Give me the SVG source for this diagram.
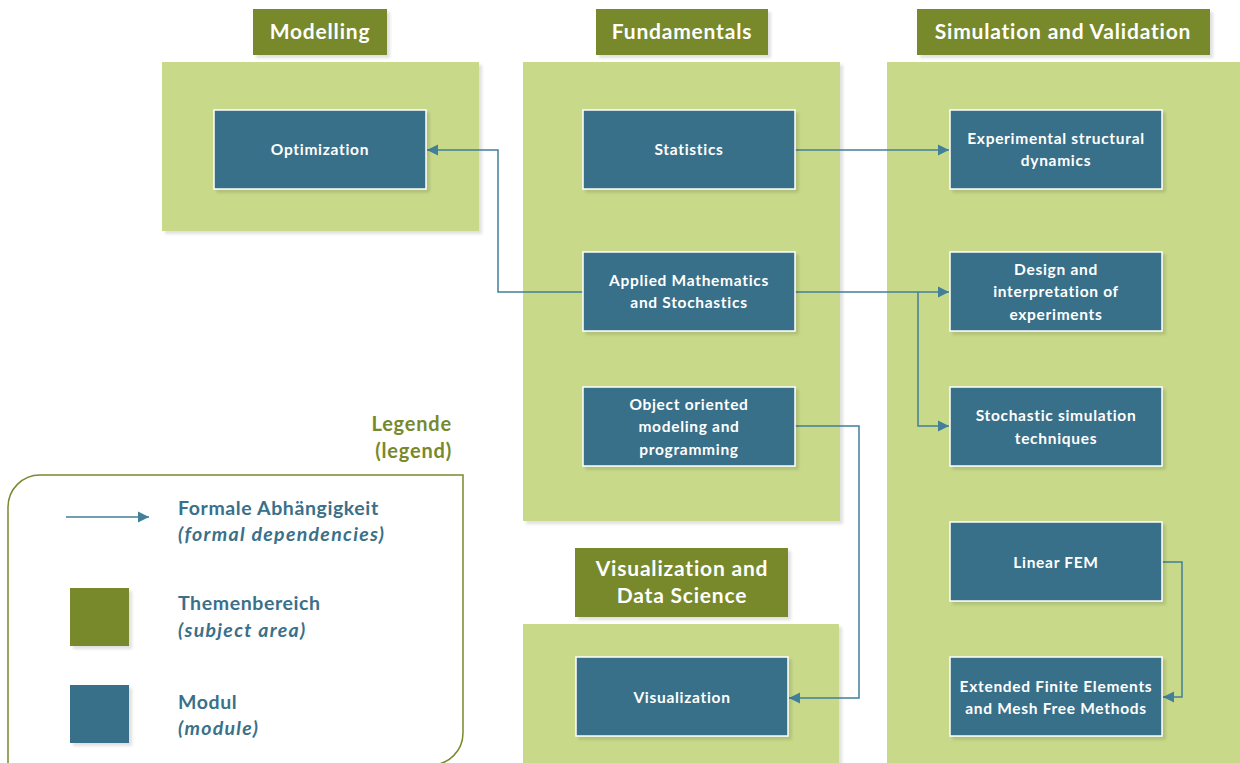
<svg xmlns="http://www.w3.org/2000/svg" width="1240" height="763" viewBox="0 0 1240 763">
<defs>
<style>
.area{fill:#c8da8a;}
.hdr{fill:#77892c;}
.mod{fill:#387089;stroke:#ffffff;stroke-width:1.5;}
.sh{filter:url(#ds);}
.ht{font-family:Lato,"Open Sans",sans-serif;font-weight:700;font-size:21px;letter-spacing:0.8px;fill:#ffffff;text-anchor:middle;}
.mt{font-family:Lato,"Open Sans",sans-serif;font-weight:700;font-size:15.5px;letter-spacing:0.7px;fill:#ffffff;text-anchor:middle;}
.con{fill:none;stroke:#427f99;stroke-width:1.5;}
.lg{font-family:Lato,"Open Sans",sans-serif;font-weight:700;font-size:19.5px;letter-spacing:0.6px;fill:#3a7089;}
.lgi{font-style:italic;letter-spacing:1.3px;}
.lgt{font-family:Lato,"Open Sans",sans-serif;font-weight:700;font-size:20px;letter-spacing:0.8px;fill:#77892c;text-anchor:end;}
</style>
<filter id="ds" x="-10%" y="-10%" width="130%" height="130%">
<feDropShadow dx="3" dy="3" stdDeviation="1.5" flood-color="#000000" flood-opacity="0.12"/>
</filter>
<marker id="ah" markerWidth="12" markerHeight="12" refX="11" refY="6" orient="auto" markerUnits="userSpaceOnUse">
<path d="M0,0.5 L11,6 L0,11.5 Z" fill="#427f99"/>
</marker>
</defs>
<rect width="1240" height="763" fill="#ffffff"/>

<g id="area-modelling">
<rect class="area sh" x="162" y="62" width="317" height="169"/>
<rect class="hdr sh" x="253" y="9" width="134" height="46"/>
<text class="ht" x="320" y="39">Modelling</text>
</g>
<g id="area-fundamentals">
<rect class="area sh" x="523" y="62" width="317" height="459"/>
<rect class="hdr sh" x="596" y="9" width="172" height="46"/>
<text class="ht" x="682" y="39">Fundamentals</text>
</g>
<g id="area-simulation">
<rect class="area sh" x="887" y="62" width="360" height="710"/>
<rect class="hdr sh" x="917" y="9" width="293" height="46"/>
<text class="ht" x="1063" y="39">Simulation and Validation</text>
</g>
<g id="area-visualization">
<rect class="area sh" x="523" y="624" width="316" height="150"/>
<rect class="hdr sh" x="575" y="548" width="213" height="69"/>
<text class="ht" x="682" y="576">Visualization and</text>
<text class="ht" x="682" y="603">Data Science</text>
</g>

<g id="connectors">
<path class="con" d="M583,292 H498 V150 H427" marker-end="url(#ah)"/>
<path class="con" d="M795,150 H949" marker-end="url(#ah)"/>
<path class="con" d="M795,292 H949" marker-end="url(#ah)"/>
<path class="con" d="M918,292 V426 H949" marker-end="url(#ah)"/>
<path class="con" d="M795,426 H859 V698 H789" marker-end="url(#ah)"/>
<path class="con" d="M1162,562 H1182 V697 H1163" marker-end="url(#ah)"/>
</g>

<g id="node-optimization">
<rect class="mod sh" x="214" y="110" width="212" height="79"/>
<text class="mt" x="320" y="155">Optimization</text>
</g>
<g id="node-statistics">
<rect class="mod sh" x="583" y="110" width="212" height="79"/>
<text class="mt" x="689" y="155">Statistics</text>
</g>
<g id="node-applied">
<rect class="mod sh" x="583" y="252" width="212" height="79"/>
<text class="mt" x="689" y="286">Applied Mathematics</text>
<text class="mt" x="689" y="308">and Stochastics</text>
</g>
<g id="node-oop">
<rect class="mod sh" x="583" y="387" width="212" height="79"/>
<text class="mt" x="689" y="410">Object oriented</text>
<text class="mt" x="689" y="432">modeling and</text>
<text class="mt" x="689" y="455">programming</text>
</g>
<g id="node-experimental">
<rect class="mod sh" x="950" y="110" width="212" height="79"/>
<text class="mt" x="1056" y="144">Experimental structural</text>
<text class="mt" x="1056" y="166">dynamics</text>
</g>
<g id="node-design">
<rect class="mod sh" x="950" y="252" width="212" height="79"/>
<text class="mt" x="1056" y="275">Design and</text>
<text class="mt" x="1056" y="297">interpretation of</text>
<text class="mt" x="1056" y="320">experiments</text>
</g>
<g id="node-stochastic">
<rect class="mod sh" x="950" y="387" width="212" height="79"/>
<text class="mt" x="1056" y="421">Stochastic simulation</text>
<text class="mt" x="1056" y="444">techniques</text>
</g>
<g id="node-linearfem">
<rect class="mod sh" x="950" y="522" width="212" height="79"/>
<text class="mt" x="1056" y="568">Linear FEM</text>
</g>
<g id="node-extended">
<rect class="mod sh" x="950" y="657" width="212" height="79"/>
<text class="mt" x="1056" y="692">Extended Finite Elements</text>
<text class="mt" x="1056" y="714">and Mesh Free Methods</text>
</g>
<g id="node-visualization">
<rect class="mod sh" x="576" y="657" width="212" height="79"/>
<text class="mt" x="682" y="703">Visualization</text>
</g>

<g id="legend">
<text class="lgt" x="452" y="431">Legende</text>
<text class="lgt" x="452" y="458">(legend)</text>
<path d="M8,800 V507 A32,32 0 0 1 40,475 H463 V733 A32,32 0 0 1 431,765" fill="none" stroke="#77892c" stroke-width="1.5"/>
<path class="con" d="M66,517 H149" marker-end="url(#ah)"/>
<text class="lg" x="178" y="515">Formale Abhängigkeit</text>
<text class="lg lgi" x="178" y="541">(formal dependencies)</text>
<rect class="hdr sh" x="70" y="588" width="59" height="58"/>
<text class="lg" x="178" y="610">Themenbereich</text>
<text class="lg lgi" x="178" y="637">(subject area)</text>
<rect fill="#387089" class="sh" x="70" y="685" width="59" height="58"/>
<text class="lg" x="178" y="709">Modul</text>
<text class="lg lgi" x="178" y="735">(module)</text>
</g>
</svg>
